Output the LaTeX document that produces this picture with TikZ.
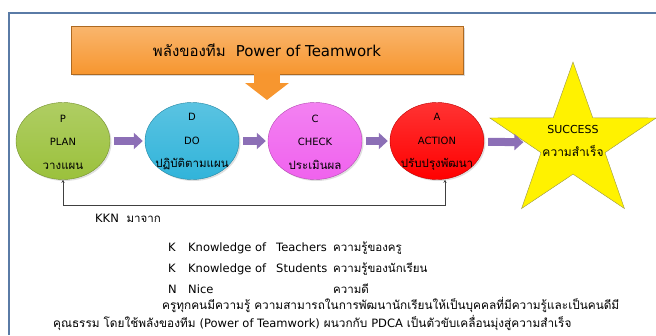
\documentclass[tikz,border=0pt]{standalone}
\usepackage{fontspec}
\setmainfont[Script=Thai]{Loma}
\newfontfamily\lat{DejaVu Sans}
\usetikzlibrary{shapes.geometric,arrows.meta,shadows}
\definecolor{frameblue}{HTML}{5A7BA6}
\definecolor{orng}{HTML}{F7962F}
\definecolor{pgreen}{HTML}{9BC13C}
\definecolor{pblue}{HTML}{31B4DA}
\definecolor{pmag}{HTML}{F062EE}
\definecolor{pred}{HTML}{FF0000}
\definecolor{purp}{HTML}{8C6FB6}
\tikzset{>=stealth,
  phase/.style={ellipse,minimum width=94pt,minimum height=77pt,draw=#1!75!black,
    top color=#1!80!white,bottom color=#1,
    drop shadow={opacity=0.25,shadow xshift=1.5pt,shadow yshift=-1.5pt}},
  phtext/.style={align=center,inner sep=0pt,font=\fontsize{10}{23.5}\selectfont},
  fat/.style={line width=8pt,draw=purp,-{Triangle[length=9pt,width=16pt]},
    shorten <=4pt,shorten >=2pt},
  body/.style={anchor=base west,inner sep=0pt,font=\fontsize{11.5}{13}\selectfont},
  latin/.style={body,font=\lat\fontsize{11.5}{13}\selectfont}}
\newcommand\latsm{\lat\fontsize{11.5}{13}\selectfont}
\begin{document}
\begin{tikzpicture}[x=1pt,y=-1pt]
\useasboundingbox (0,0) rectangle (656,335);
\draw[frameblue,line width=2pt] (9,335) -- (9,13) -- (656,13);
\node[minimum width=392pt,minimum height=48pt,draw=orng!70!black,
  top color=orng!70!white,bottom color=orng,
  drop shadow={opacity=0.3,shadow xshift=2pt,shadow yshift=-2pt},
  font=\fontsize{15}{17}\selectfont] (team) at (267,50) {พลังของทีม\ \ {\lat Power of Teamwork}};
\coordinate (push) at (267,100);
\draw[orng,line width=26pt,-{Triangle[length=17pt,width=43pt]}] (team.south -| push) -- (push);
\foreach \n/\x/\c/\a/\b/\th in {P/63/pgreen/P/PLAN/วางแผน,D/192/pblue/D/DO/ปฏิบัติตามแผน,
    C/315/pmag/C/CHECK/ประเมินผล,A/437/pred/A/ACTION/ปรับปรุงพัฒนา}{
  \node[phase=\c] (\n) at (\x,141) {};
  \node[phtext] (\n-t) at (\x,142) {{\lat\a}\\{\lat\b}\\{\fontsize{11.5}{13}\selectfont\th}};
}
\node[star,star points=5,star point ratio=2.6,minimum size=162pt,xscale=1.08,
  draw=yellow!55!black,fill=yellow] (star) at (573,143) {};
\node[phtext,font=\fontsize{11}{23}\selectfont] (succ) at (573,141)
  {{\lat SUCCESS}\\{\fontsize{12}{14}\selectfont ความสำเร็จ}};
\foreach \a/\b in {P/D,D/C,C/A,A/star}
  \draw[fat] (\a) -- (\b);
\coordinate (fbP) at (63,205);
\coordinate (fbA) at (445,205);
\draw[<->,black!75] (P.south) -- (fbP) -- (fbA) -- (fbA |- A.south);
\node[body] (kkn) at (95,222) {{\latsm KKN}\ \ มาจาก};
\node[latin] (k1) at (168,251) {K};
\node[latin] (k1a) at (188,251) {Knowledge of};
\node[latin] (k1b) at (276,251) {Teachers};
\node[body] (k1c) at (333,251) {ความรู้ของครู};
\node[latin] (k2) at (168,272) {K};
\node[latin] (k2a) at (188,272) {Knowledge of};
\node[latin] (k2b) at (276,272) {Students};
\node[body] (k2c) at (333,272) {ความรู้ของนักเรียน};
\node[latin] (n3) at (168,293) {N};
\node[latin] (n3a) at (188,293) {Nice};
\node[body] (n3c) at (333,293) {ความดี};
\node[body,font=\fontsize{11.8}{13}\selectfont] (sum1) at (162,309) {ครูทุกคนมีความรู้ ความสามารถในการพัฒนานักเรียนให้เป็นบุคคลที่มีความรู้และเป็นคนดีมี};
\node[body,font=\fontsize{11.8}{13}\selectfont] (sum2) at (53,327) {คุณธรรม โดยใช้พลังของทีม {\latsm(Power of Teamwork)} ผนวกกับ {\latsm PDCA} เป็นตัวขับเคลื่อนมุ่งสู่ความสำเร็จ};
\end{tikzpicture}
\end{document}
